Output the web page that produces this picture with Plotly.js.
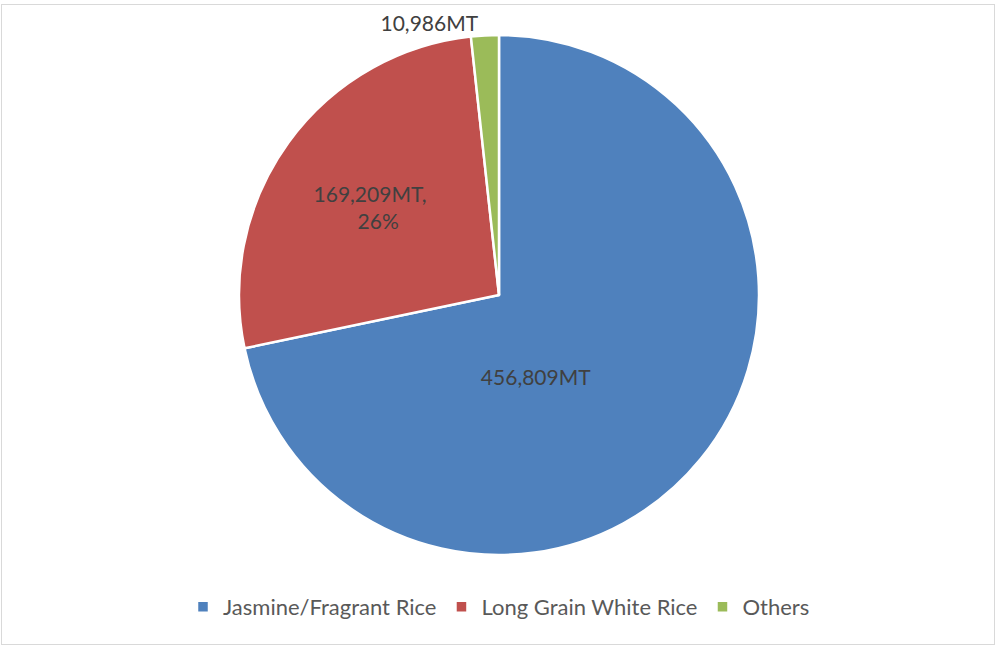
<!DOCTYPE html>
<html>
<head>
<meta charset="utf-8">
<script src="https://cdn.plot.ly/plotly-3.0.1.min.js"></script>
<style>
  html, body { margin: 0; padding: 0; background: #fff; }
  #wrap { position: relative; width: 995px; height: 646px; }
  #chart { width: 995px; height: 646px; }
  #frame { position: absolute; left: 1px; top: 4px; width: 992px; height: 639px;
           border: 1.5px solid #d9d9d9; pointer-events: none; }
</style>
</head>
<body>
<div id="wrap">
  <div id="chart"></div>
  <div id="frame"></div>
</div>
<script>
const categories = ["Jasmine/Fragrant Rice", "Long Grain White Rice", "Others"];
const volumes = [456809, 169209, 10986];
const sliceLabels = ["456,809MT", "169,209MT,<br>26%", "10,986MT"];
const colors = ["#4F81BD", "#C0504D", "#9BBB59"];

// trailing non-breaking spaces nudge the visible inside labels toward Excel's placement
const pad = (s, n) => s + "\u00a0".repeat(n);
const shownText = [pad(sliceLabels[0], 24), sliceLabels[1].replace("<br>", "\u00a0\u00a0\u00a0<br>") , sliceLabels[2]];

const fontFam = "Lato, 'Open Sans', sans-serif";

const trace = {
  type: "pie",
  labels: categories,
  values: volumes,
  text: shownText,
  textinfo: "text",
  hoverinfo: "label+value+percent",
  sort: false,
  direction: "clockwise",
  rotation: 0,
  textposition: ["inside", "inside", "outside"],
  insidetextorientation: "horizontal",
  marker: { colors: colors, line: { color: "#ffffff", width: 2.5 } },
  textfont: { family: fontFam, size: 21, color: "#404040" },
  outsidetextfont: { family: fontFam, size: 21, color: "#404040" },
  insidetextfont: { family: fontFam, size: 21, color: "#404040" }
};

const layout = {
  width: 995,
  height: 646,
  margin: { l: 3, r: 0, t: 35, b: 91 },
  paper_bgcolor: "#ffffff",
  showlegend: true,
  legend: {
    orientation: "h",
    x: 0.5, xanchor: "center",
    y: -0.1, yanchor: "middle",
    font: { family: fontFam, size: 22, color: "#595959" },
    traceorder: "normal"
  },
  font: { family: fontFam, color: "#404040" }
};

Plotly.newPlot("chart", [trace], layout, { displayModeBar: false, staticPlot: true });
</script>
</body>
</html>
